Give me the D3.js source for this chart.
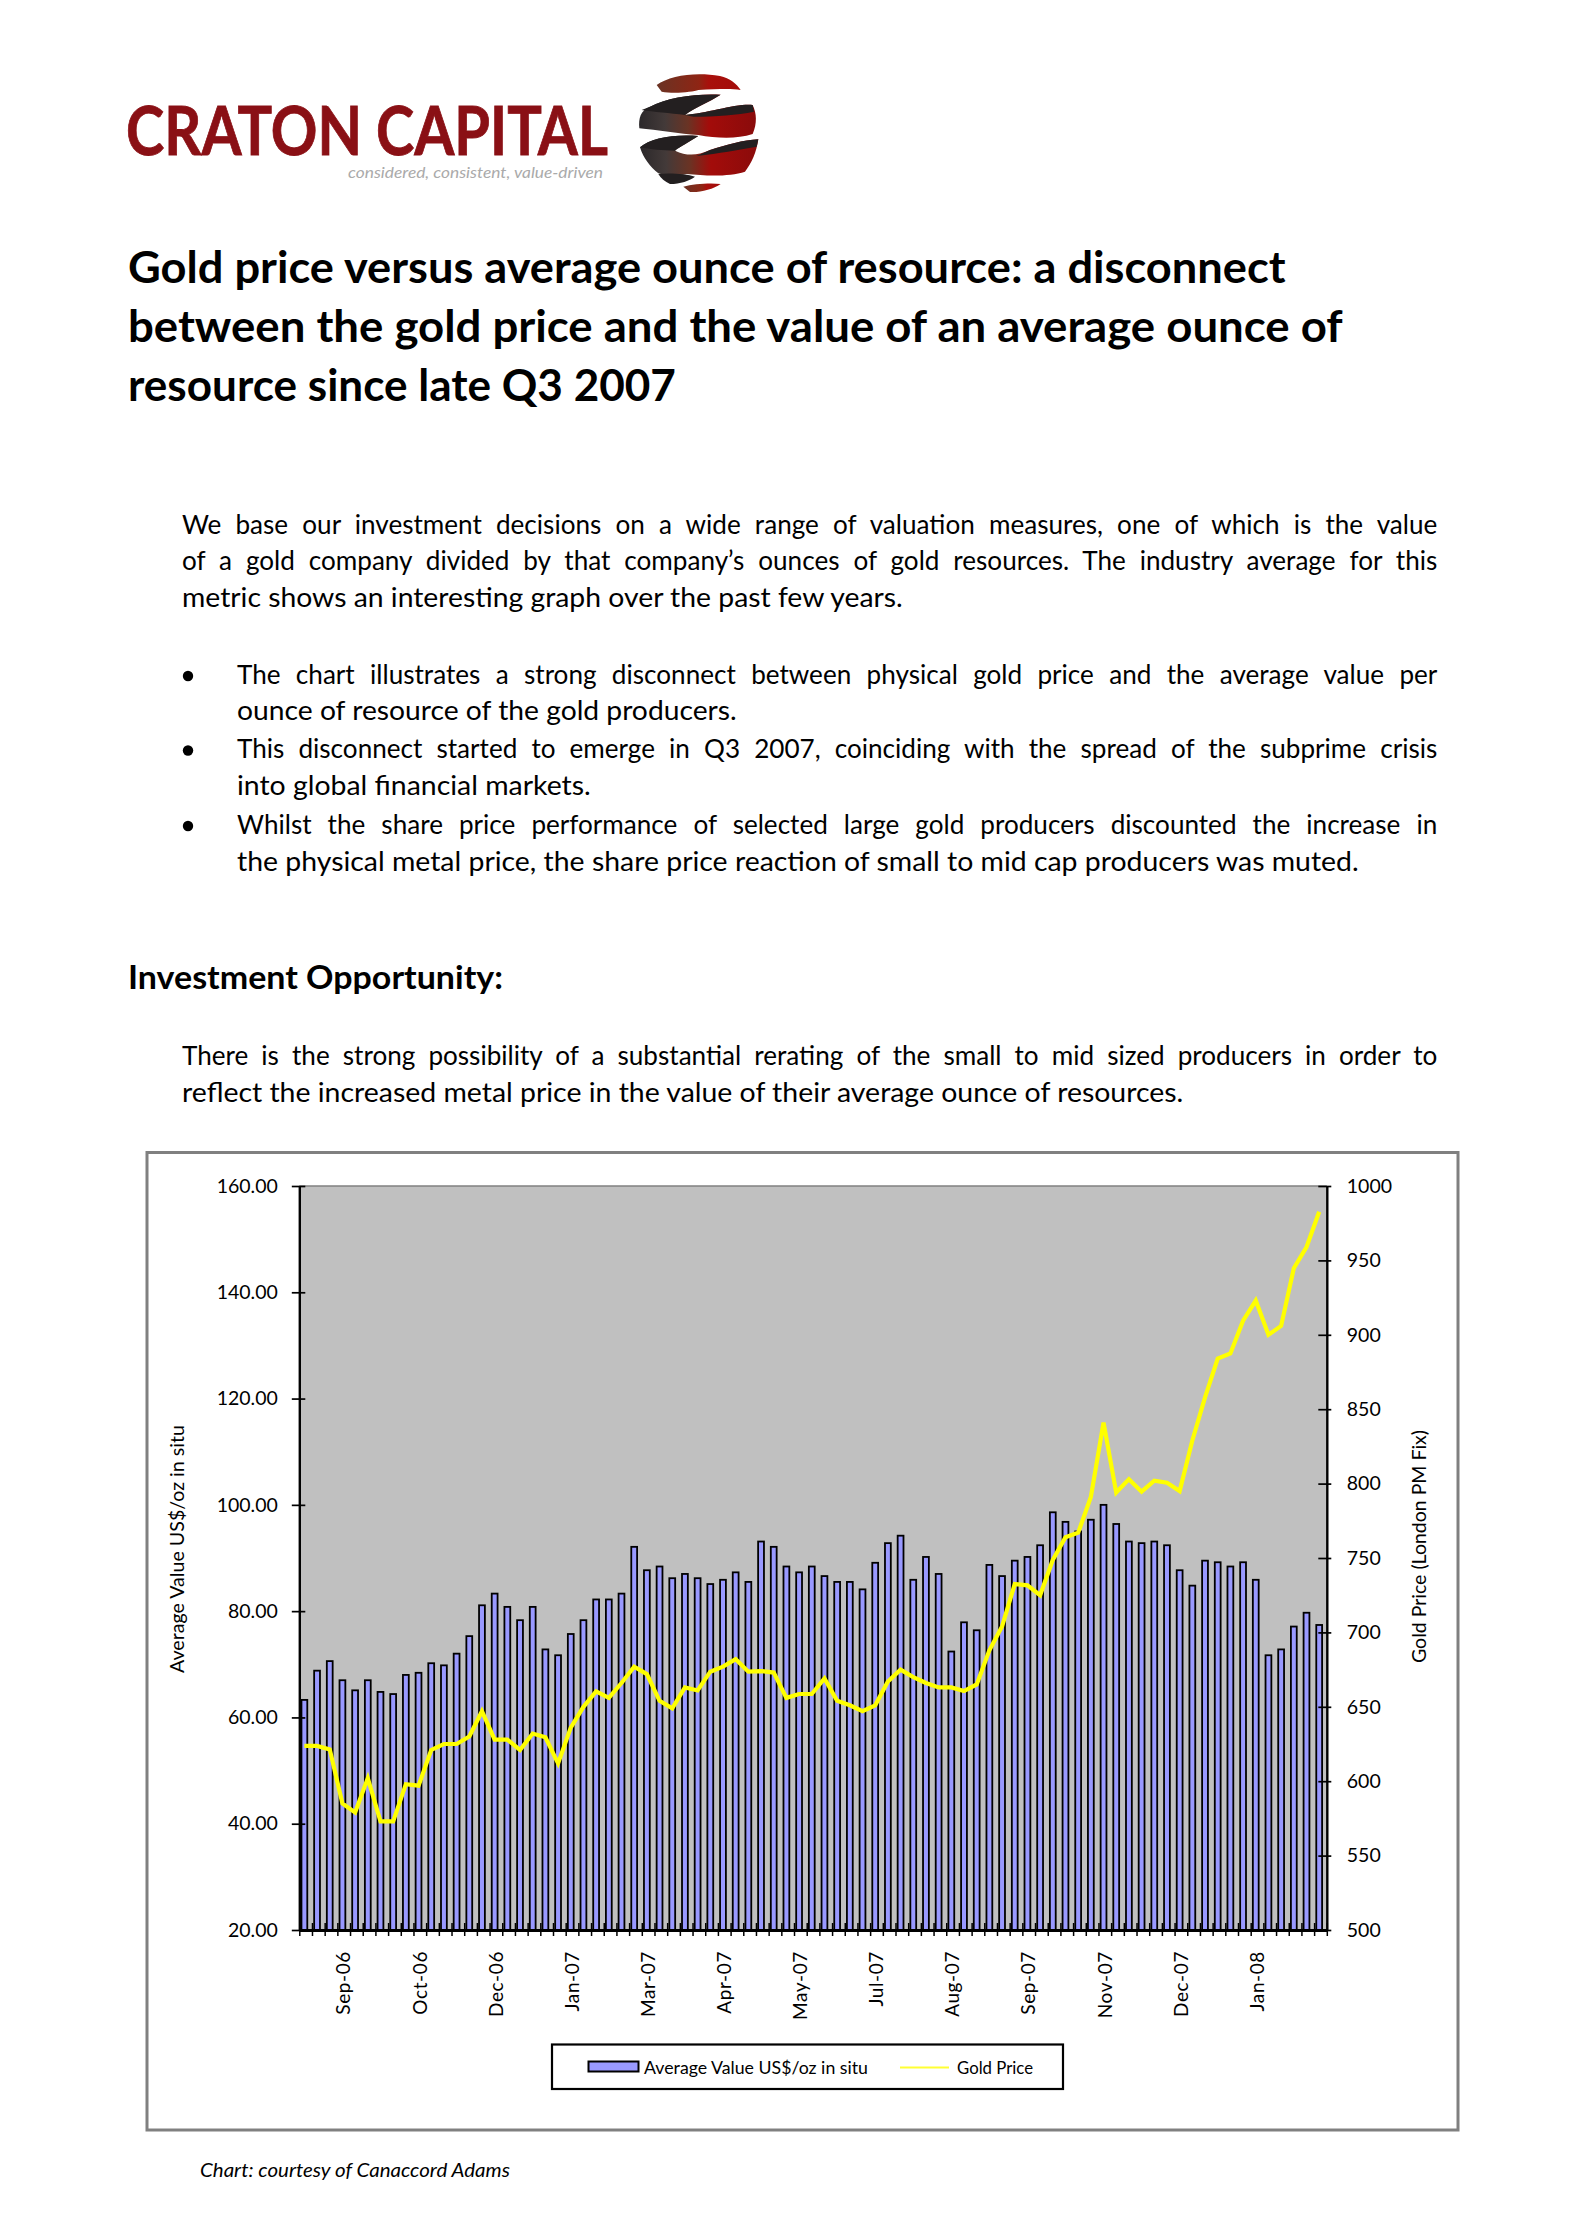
<!DOCTYPE html>
<html><head><meta charset="utf-8">
<script src="https://cdn.jsdelivr.net/npm/d3@7/dist/d3.min.js"></script>
<style>html,body{margin:0;padding:0;background:#fff}svg{display:block}text{font-family:Lato,"Open Sans",sans-serif;fill:#000}</style>
</head><body><svg id="page" width="1583" height="2237"></svg>
<script>
const averageValue=[63.3,68.8,70.6,67.0,65.1,67.0,64.8,64.4,68.0,68.4,70.2,69.8,72.0,75.3,81.1,83.3,80.8,78.3,80.8,72.8,71.7,75.7,78.3,82.2,82.2,83.3,92.1,87.7,88.4,86.2,87.0,86.2,85.1,85.9,87.3,85.5,93.1,92.1,88.4,87.3,88.4,86.6,85.5,85.5,84.1,89.1,92.8,94.2,85.9,90.2,87.0,72.4,77.9,76.4,88.7,86.6,89.5,90.2,92.4,98.6,96.8,95.0,97.2,100.0,96.4,93.1,92.8,93.1,92.4,87.7,84.8,89.5,89.2,88.4,89.2,85.9,71.7,72.8,77.1,79.7,77.4];
const goldPrice=[623.7,623.7,621.4,585,579,602,573,573,598,597,621,625,625,630,647,628,628,621,632,629.5,612,636,650,660.4,656,666,677,672,654,649,663,661,673.6,677,682,673.6,674,673,656,658.6,658.6,669,654,651,647,651,667,675,670,666,663,663,660.6,665,688,704,732.5,731.6,725,748.7,764,767,791,841,794,803,794.6,802,800.6,795,829,858,884,887.5,909.5,923,900,906,944.7,959,982.7];
const xLabels=["Sep-06","Oct-06","Dec-06","Jan-07","Mar-07","Apr-07","May-07","Jul-07","Aug-07","Sep-07","Nov-07","Dec-07","Jan-08"];
const xLabelIndex=[3,9,15,21,27,33,39,45,51,57,63,69,75];
const leftTicks=[20,40,60,80,100,120,140,160];
const rightTicks=[500,550,600,650,700,750,800,850,900,950,1000];
const headline=[["Gold price versus average ounce of resource: a disconnect",1286,283],["between the gold price and the value of an average ounce of",1343,342],["resource since late Q3 2007",676,401]];
const intro=[["We base our investment decisions on a wide range of valuation measures, one of which is the value",1437.5,533.5,true],["of a gold company divided by that company’s ounces of gold resources. The industry average for this",1437.5,570,true],["metric shows an interesting graph over the past few years.",903,607,false]];
const bullets=[["The chart illustrates a strong disconnect between physical gold price and the average value per",1437.5,683.5,true],["ounce of resource of the gold producers.",737,720,false],["This disconnect started to emerge in Q3 2007, coinciding with the spread of the subprime crisis",1437.5,758,true],["into global financial markets.",591,795,false],["Whilst the share price performance of selected large gold producers discounted the increase in",1437.5,833.5,true],["the physical metal price, the share price reaction of small to mid cap producers was muted.",1359,870.5,false]];
const opportunity=[["There is the strong possibility of a substantial rerating of the small to mid sized producers in order to",1437.5,1065,true],["reflect the increased metal price in the value of their average ounce of resources.",1184,1102,false]];

const svg=d3.select("#page");
// justified lines open up their word gaps; unjustified lines are fitted by a small horizontal scale.
function fitLine(parent,str,x,y,right,size,weight,justify,style){
  const t=parent.append("text").text(str).style("font-size",size+"px").style("font-weight",weight||400).style("font-style",style||"normal");
  const len=t.node().getComputedTextLength(),n=str.split(" ").length-1,w=right-x;
  let sx=w/len;
  if(justify){ sx=Math.min(sx,0.985); t.style("word-spacing",((w/sx-len)/n)+"px"); }
  t.attr("transform",`translate(${x},${y}) scale(${sx},1)`);
  return t;
}
function fitGlyphs(parent,str,x,y,w,size,rot){
  return parent.append("text").text(str).attr("transform",`translate(${x},${y})`+(rot?` rotate(${rot})`:""))
    .attr("text-anchor",rot?"middle":"start").attr("textLength",w).attr("lengthAdjust","spacingAndGlyphs").style("font-size",size+"px");
}
// ---------- logo ----------
const defs=svg.append("defs");
const grad=defs.append("linearGradient").attr("id","ball").attr("x1","0").attr("x2","1").attr("y1","0").attr("y2","0");
[[0,"#2b282a"],[.22,"#433a39"],[.42,"#6a3324"],[.6,"#a30c0a"],[1,"#8a0b0b"]].forEach(s=>grad.append("stop").attr("offset",s[0]).attr("stop-color",s[1]));
const grad2=defs.append("linearGradient").attr("id","cap").attr("x1","0").attr("x2","1").attr("y1","0").attr("y2","0");
[[0,"#6a3324"],[.5,"#8e2514"],[.62,"#a8100c"],[1,"#a30c0a"]].forEach(s=>grad2.append("stop").attr("offset",s[0]).attr("stop-color",s[1]));
svg.append("text").text("CRATON CAPITAL").attr("x",126).attr("y",155).attr("textLength",482).attr("lengthAdjust","spacingAndGlyphs").style("font-size","67px").style("font-weight",700).style("fill","#8a1015").style("stroke","#8a1015").style("stroke-width",0.8);
svg.append("text").text("considered, consistent, value-driven").attr("x",348).attr("y",177.5).attr("textLength",255).attr("lengthAdjust","spacingAndGlyphs").style("font-size","16px").style("font-style","italic").style("fill","#aaaaaa");
const ball=svg.append("g").attr("transform","translate(630,60) scale(0.3333)");
ball.append("path").attr("fill","url(#cap)").attr("d","M80,75 C120,45 200,35 270,48 C300,55 320,72 332,90 C300,85 260,88 205,90 C190,96 130,102 95,95 Z");
ball.append("path").attr("fill","url(#ball)").attr("d","M28,205 C25,175 32,150 60,140 C110,112 200,100 272,104 C240,125 190,145 165,165 C230,160 320,130 368,135 C380,160 382,190 368,222 C320,238 260,235 205,225 C150,222 80,210 28,205 Z");
ball.append("path").attr("fill","#231f20").attr("d","M60,140 C110,112 200,100 272,104 C240,125 190,145 165,165 C120,160 70,155 35,150 Z");
ball.append("path").attr("fill","#231f20").attr("d","M165,165 C230,160 320,130 368,135 L372,155 C320,165 260,170 190,170 Z");
ball.append("path").attr("fill","url(#ball)").attr("d","M30,262 C60,235 130,222 205,228 C180,245 150,260 135,272 C170,288 200,288 240,270 C290,255 340,240 385,238 C380,275 365,310 345,335 C300,350 230,348 170,342 C130,350 100,345 85,340 C60,320 40,295 30,262 Z");
ball.append("path").attr("fill","#231f20").attr("d","M30,262 C60,235 130,222 205,228 C180,245 150,260 135,272 C100,272 60,268 30,262 Z");
ball.append("path").attr("fill","#231f20").attr("d","M240,270 C290,255 340,240 385,238 L380,260 C320,270 270,280 200,288 Z");
ball.append("path").attr("fill","#231f20").attr("d","M85,342 C120,338 170,342 195,350 C180,362 150,372 120,372 C105,365 92,355 85,342 Z");
ball.append("path").attr("fill","url(#cap)").attr("d","M160,380 C190,372 240,368 272,372 C250,388 210,398 180,396 Z");
// ---------- text ----------
const text=svg.append("g");
headline.forEach(l=>fitLine(text,l[0],128,l[2],l[1],44,700,false));
intro.forEach(l=>fitLine(text,l[0],182,l[2],l[1],26.5,400,l[3]));
bullets.forEach(l=>{fitLine(text,l[0],237,l[2],l[1],26.5,400,l[3]);
  if(l[3]) text.append("circle").attr("cx",188).attr("cy",l[2]-7.5).attr("r",5.2).attr("fill","#000");});
fitLine(text,"Investment Opportunity:",128,988.5,503,32,700,false);
opportunity.forEach(l=>fitLine(text,l[0],182,l[2],l[1],26.5,400,l[3]));
fitLine(text,"Chart: courtesy of Canaccord Adams",200,2177,510,19.5,400,false,"italic");
// ---------- chart ----------
const L=299.3,R=1326.8,T=1186,B=1930;
svg.append("rect").attr("x",147).attr("y",1152.5).attr("width",1311).attr("height",977.5).attr("fill","#fff").attr("stroke","#808080").attr("stroke-width",3);
svg.append("rect").attr("x",L).attr("y",T).attr("width",R-L).attr("height",B-T).attr("fill","#c0c0c0");
svg.append("line").attr("x1",L).attr("x2",R).attr("y1",T).attr("y2",T).attr("stroke","#808080").attr("stroke-width",1.5);
const x=d3.scaleBand().domain(d3.range(averageValue.length)).range([L,R]);
const xCentre=i=>x(i)+x.bandwidth()*0.4;
const xEdge=d3.scaleLinear().domain([0,averageValue.length]).range([L,R]);
const yLeft=d3.scaleLinear().domain([20,160]).range([B,T]);
const yRight=d3.scaleLinear().domain([500,1000]).range([B,T]);
const barW=x.bandwidth()*0.46;
svg.append("g").selectAll("rect").data(averageValue).join("rect")
  .attr("x",(d,i)=>Math.max(L,xCentre(i)-barW/2)).attr("width",(d,i)=>xCentre(i)+barW/2-Math.max(L,xCentre(i)-barW/2))
  .attr("y",d=>yLeft(d)).attr("height",d=>B-yLeft(d))
  .attr("fill","#9999ff").attr("stroke","#000").attr("stroke-width",1.8);
svg.append("path").datum(goldPrice).attr("fill","none").attr("stroke","#ffff00").attr("stroke-width",4.2).attr("stroke-linejoin","miter")
  .attr("d",d3.line().x((d,i)=>xCentre(i)).y(d=>yRight(d)));
function styleAxis(g){g.selectAll("path.domain").attr("stroke","#000").attr("stroke-width",2.4);g.selectAll(".tick line").attr("stroke","#000").attr("stroke-width",1.7);g.selectAll("text").style("font-size","19.5px").style("font-family","Lato").attr("fill","#000");}
const aL=svg.append("g").attr("transform",`translate(${L},0)`).call(d3.axisLeft(yLeft).tickValues(leftTicks).tickFormat(d3.format(".2f")).tickSize(7.5).tickSizeOuter(0).tickPadding(14)).call(styleAxis);
aL.selectAll(".tick line").attr("x2",-7.5).attr("x1",6);
const aR=svg.append("g").attr("transform",`translate(${R},0)`).call(d3.axisRight(yRight).tickValues(rightTicks).tickFormat(d3.format("d")).tickSize(4.5).tickSizeOuter(0).tickPadding(15.5)).call(styleAxis);
aR.selectAll(".tick line").attr("x1",-8.5).attr("x2",4.5);
const aB=svg.append("g").attr("transform",`translate(0,${B})`).call(d3.axisBottom(xEdge).tickValues(d3.range(averageValue.length+1)).tickFormat("").tickSize(6).tickSizeOuter(0));
aB.selectAll("path.domain").attr("stroke","#000").attr("stroke-width",3.2);
aB.selectAll(".tick line").attr("stroke","#000").attr("stroke-width",1.5).attr("y1",-7).attr("y2",6);
const aX=svg.append("g").attr("transform",`translate(${-x.bandwidth()*0.1+1},${B})`).call(d3.axisBottom(x).tickValues(xLabelIndex).tickFormat((d,i)=>xLabels[i]).tickSize(0));
aX.select("path.domain").remove();
aX.selectAll("text").attr("text-anchor","end").attr("x",0).attr("y",0).attr("dy",0)
  .attr("transform","translate(7,21) rotate(-90)").style("font-size","19px").style("font-family","Lato").style("letter-spacing","0.6px").attr("fill","#000");
fitGlyphs(svg,"Average Value US$/oz in situ",184,1549,248,20,-90);
fitGlyphs(svg,"Gold Price (London PM Fix)",1426,1546.5,233,20,-90);
// ---------- legend ----------
const lg=svg.append("g");
lg.append("rect").attr("x",552).attr("y",2044.5).attr("width",511).attr("height",44.5).attr("fill","#fff").attr("stroke","#000").attr("stroke-width",2.2);
lg.append("rect").attr("x",588.5).attr("y",2061.5).attr("width",50).attr("height",10).attr("fill","#9999ff").attr("stroke","#000").attr("stroke-width",2);
fitGlyphs(lg,"Average Value US$/oz in situ",644,2073.5,224,18);
lg.append("line").attr("x1",900).attr("x2",949).attr("y1",2067.5).attr("y2",2067.5).attr("stroke","#ffff33").attr("stroke-width",2);
fitGlyphs(lg,"Gold Price",957,2073.5,76,18);
</script></body></html>
